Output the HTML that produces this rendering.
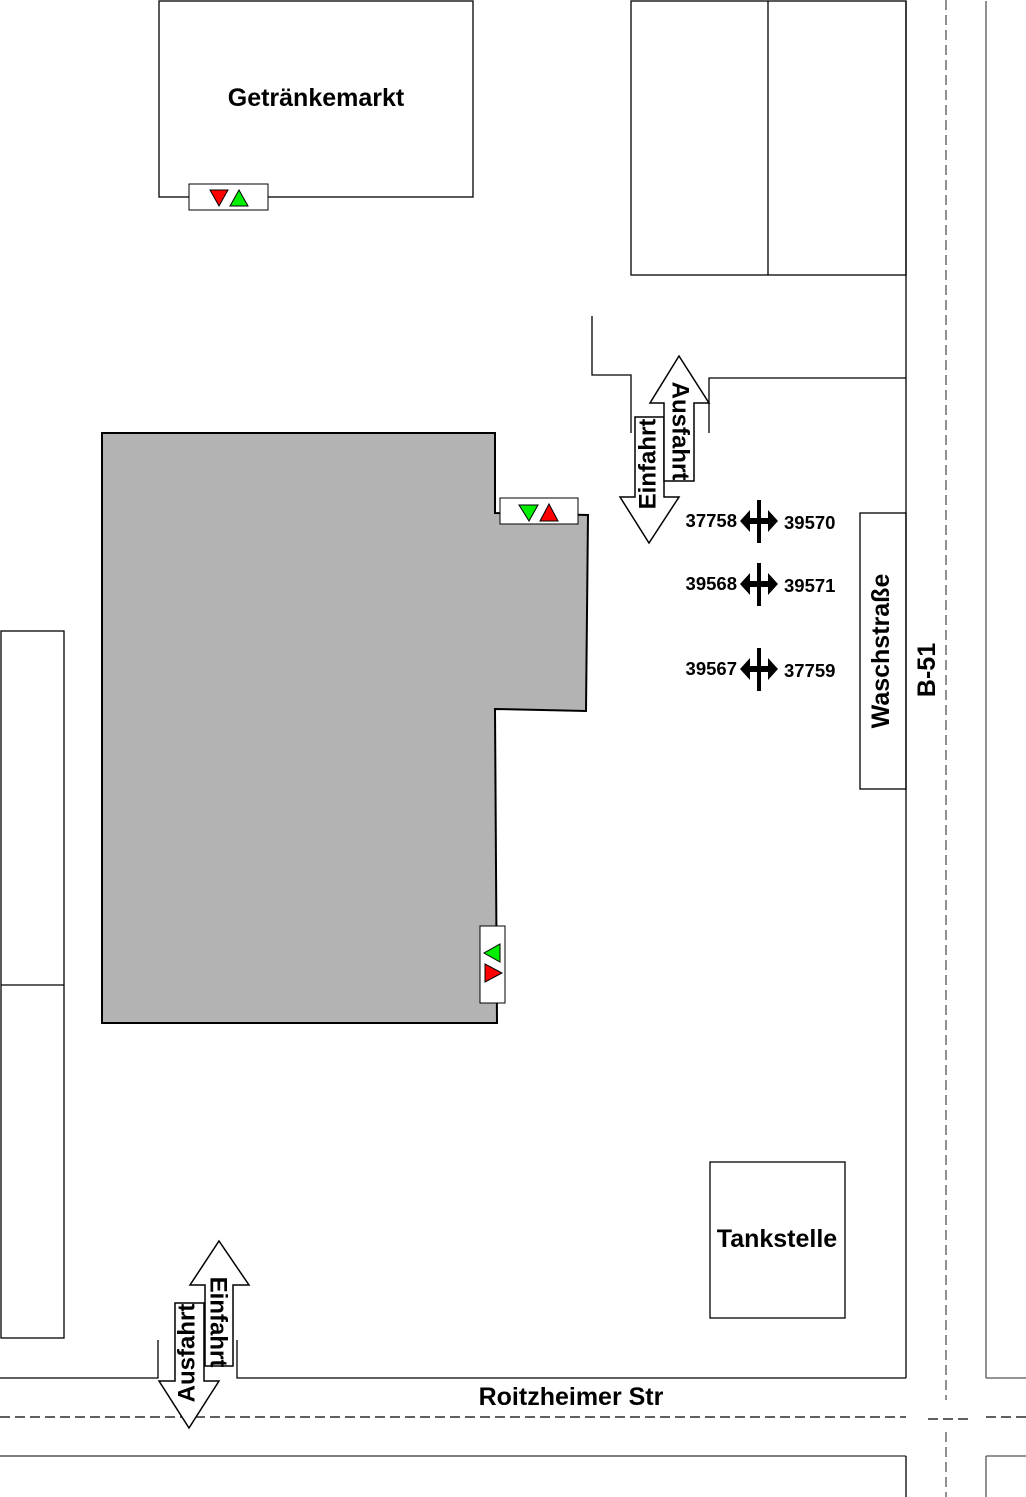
<!DOCTYPE html>
<html><head><meta charset="utf-8"><style>
html,body{margin:0;padding:0;background:#fff;}
svg{display:block;}
text{font-family:"Liberation Sans",Arial,sans-serif;font-weight:bold;fill:#000;}
</style></head><body>
<svg width="1026" height="1497" viewBox="0 0 1026 1497" xmlns="http://www.w3.org/2000/svg">
<g fill="none" stroke="#000" stroke-width="1.3">
<rect x="159" y="1" width="314" height="196" fill="#fff"/>
<rect x="631" y="1" width="275" height="274"/>
<line x1="768" y1="1" x2="768" y2="275"/>
<line x1="906" y1="1" x2="906" y2="1378"/>
<line x1="986" y1="1" x2="986" y2="1378" stroke="#555"/>
<line x1="986" y1="1378" x2="1026" y2="1378" stroke="#555"/>
<line x1="986" y1="1456" x2="1026" y2="1456" stroke="#555"/>
<line x1="986" y1="1456" x2="986" y2="1497" stroke="#555"/>
<line x1="0" y1="1456" x2="906" y2="1456" stroke="#555" stroke-width="1.6"/>
<line x1="906" y1="1456" x2="906" y2="1497"/>
<polyline points="0,1378 158,1378 158,1340"/>
<polyline points="237,1340 237,1378 906,1378"/>
<line x1="946" y1="0" x2="946" y2="1400" stroke="#555" stroke-dasharray="10,5"/>
<line x1="946" y1="1432" x2="946" y2="1497" stroke="#555" stroke-dasharray="10,5"/>
<line x1="0" y1="1417" x2="906" y2="1417" stroke-dasharray="10,5"/>
<line x1="928" y1="1419" x2="968" y2="1419" stroke-dasharray="10,5"/>
<line x1="986" y1="1417" x2="1026" y2="1417" stroke-dasharray="10,5"/>
<polyline points="592,316 592,375 631,375 631,433"/>
<polyline points="709,433 709,378 906,378"/>
<rect x="1" y="631" width="63" height="707"/>
<line x1="1" y1="985" x2="64" y2="985"/>
<rect x="860" y="513" width="46" height="276"/>
<rect x="710" y="1162" width="135" height="156"/>
</g>
<polygon points="102,433 495,433 495,513 588,515 586,711 495,709 497,1023 102,1023" fill="#b3b3b3" stroke="#000" stroke-width="2"/>
<g stroke="#000" stroke-width="1">
<rect x="189" y="184" width="79" height="26" fill="#fff"/>
<polygon points="210,190 228,190 219,206" fill="#f00"/>
<polygon points="230,206 248,206 239,190" fill="#0e0"/>
<rect x="500" y="498" width="78" height="26" fill="#fff"/>
<polygon points="519,505 538,505 529,521" fill="#0e0"/>
<polygon points="540,521 558,521 549,504" fill="#f00"/>
<rect x="480" y="926" width="25" height="77" fill="#fff"/>
<polygon points="500,944 500,962 484,953" fill="#0e0"/>
<polygon points="485,964 485,982 502,973" fill="#f00"/>
</g>
<g stroke="#000" stroke-width="1.5" fill="#fff">
<polygon points="635,417 664,417 664,497 679,497 649,543 620,497 635,497"/>
<polygon points="664,481 694,481 694,403 709,403 679,356 650,403 664,403"/>
<polygon points="205,1366 233,1366 233,1285 249,1285 219,1241 190,1285 205,1285"/>
<polygon points="175,1303 204,1303 204,1381 219,1381 189,1428 159,1381 175,1381"/>
</g>
<text transform="translate(648,464) rotate(-90)" font-size="24" text-anchor="middle" dominant-baseline="central">Einfahrt</text>
<text transform="translate(680,431) rotate(90)" font-size="24" text-anchor="middle" dominant-baseline="central">Ausfahrt</text>
<text transform="translate(218,1322) rotate(90)" font-size="24" text-anchor="middle" dominant-baseline="central">Einfahrt</text>
<text transform="translate(187,1353) rotate(-90)" font-size="24" text-anchor="middle" dominant-baseline="central">Ausfahrt</text>
<g>
<g><rect x="757" y="500" width="4" height="43"/>
<polygon points="740,521 750,510 750,518 768,518 768,510 778,521 768,532 768,524 750,524 750,532"/></g>
<g transform="translate(0,63)"><rect x="757" y="500" width="4" height="43"/>
<polygon points="740,521 750,510 750,518 768,518 768,510 778,521 768,532 768,524 750,524 750,532"/></g>
<g transform="translate(0,148)"><rect x="757" y="500" width="4" height="43"/>
<polygon points="740,521 750,510 750,518 768,518 768,510 778,521 768,532 768,524 750,524 750,532"/></g>
</g>
<g font-size="18.5">
<text x="737" y="527" text-anchor="end">37758</text>
<text x="784" y="529">39570</text>
<text x="737" y="590" text-anchor="end">39568</text>
<text x="784" y="592">39571</text>
<text x="737" y="675" text-anchor="end">39567</text>
<text x="784" y="677">37759</text>
</g>
<text x="316" y="106" font-size="25" text-anchor="middle">Getränkemarkt</text>
<text x="777" y="1247" font-size="25" text-anchor="middle">Tankstelle</text>
<text x="571" y="1405" font-size="25" text-anchor="middle">Roitzheimer Str</text>
<text transform="translate(881,651) rotate(-90)" font-size="25" text-anchor="middle" dominant-baseline="central">Waschstraße</text>
<text transform="translate(927,670) rotate(-90)" font-size="25" text-anchor="middle" dominant-baseline="central">B-51</text>
</svg>
</body></html>
